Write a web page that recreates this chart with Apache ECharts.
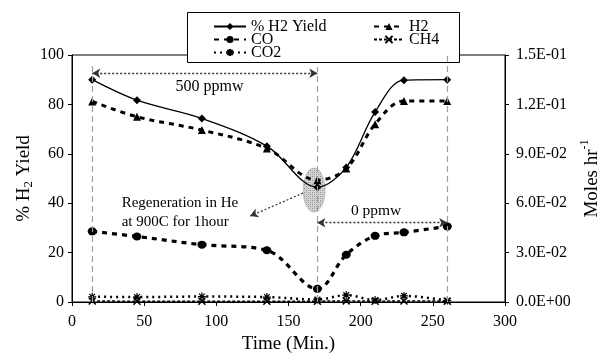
<!DOCTYPE html>
<html>
<head>
<meta charset="utf-8">
<script src="https://cdn.jsdelivr.net/npm/echarts@6/dist/echarts.min.js"></script>
<style>
  html, body { margin: 0; padding: 0; background: #fff; }
  #chart { width: 606px; height: 357px; }
</style>
</head>
<body>
<div id="chart"></div>
<script>
// Sampling times (min)
const timeMin = [14, 45, 90, 135, 170, 190, 210, 230, 260];
// Left axis: % H2 yield
const h2YieldPct = [90.0, 81.7, 74.3, 63.1, 46.5, 54.5, 76.9, 89.8, 90.0];
// Right axis: product flows (moles/hr)
const h2Moles  = [0.1218, 0.1125, 0.1044, 0.0932, 0.0740, 0.0810, 0.1080, 0.1220, 0.1220];
const coMoles  = [0.0429, 0.0398, 0.0348, 0.0314, 0.0080, 0.0287, 0.0402, 0.0423, 0.0459];
const ch4Moles = [0.0006, 0.0005, 0.0005, 0.0005, 0.0005, 0.0007, 0.0005, 0.0006, 0.0005];
const co2Moles = [0.0032, 0.0030, 0.0033, 0.0030, 0.0015, 0.0042, 0.0012, 0.0037, 0.0009];

// Axis ticks
const timeTicks  = [0, 50, 100, 150, 200, 250, 300];
const yieldTicks = [0, 20, 40, 60, 80, 100];
const molesTicks = [0, 0.03, 0.06, 0.09, 0.12, 0.15];

// Feed sulfur periods and regeneration marker
const feedSwitchTimes = [14, 170, 260];
const ppmwLabels = ['500 ppmw', '0 ppmw'];
const regenText = ['Regeneration in He', 'at 900C for 1hour'];

const SERIF = '"Liberation Serif", "Times New Roman", serif';

function sci(v) {
  if (Math.abs(v) < 1e-12) return '0.0E+00';
  const e = Math.floor(Math.log10(Math.abs(v)) + 1e-9);
  const m = v / Math.pow(10, e);
  return m.toFixed(1) + 'E' + (e < 0 ? '-' : '+') + String(Math.abs(e)).padStart(2, '0');
}

const zip = (xs, ys) => xs.map((x, i) => [x, ys[i]]);

// Stippled fill for the regeneration marker
function stipple() {
  const c = document.createElement('canvas');
  c.width = 4; c.height = 4;
  const g = c.getContext('2d');
  g.fillStyle = '#d4d4d4'; g.fillRect(0, 0, 4, 4);
  g.fillStyle = '#8c8c8c';
  g.fillRect(0, 0, 1, 1); g.fillRect(2, 2, 1, 1);
  g.fillStyle = '#b0b0b0';
  g.fillRect(2, 0, 1, 1); g.fillRect(0, 2, 1, 1);
  return c;
}

const chart = echarts.init(document.getElementById('chart'), null, { renderer: 'canvas' });

const tickLabel = { fontFamily: SERIF, fontSize: 16, color: '#000' };
const legendText = { fontFamily: SERIF, fontSize: 16, color: '#000' };

const option = {
  animation: false,
  backgroundColor: '#fff',
  grid: {
    left: 72, right: 101, top: 55, bottom: 55,
    show: true, borderColor: '#000', borderWidth: 1,
    outerBoundsMode: 'none'
  },
  legend: [
    {
      data: ['% H2 Yield', 'CO', 'CO2'],
      orient: 'vertical', left: 213, top: 18.5, padding: 0,
      itemGap: -3, itemWidth: 32, itemHeight: 9,
      selectedMode: false,
      textStyle: legendText
    },
    {
      data: ['H2', 'CH4'],
      orient: 'vertical', left: 373, top: 18.5, padding: 0,
      itemGap: -3, itemWidth: 30, itemHeight: 9,
      selectedMode: false,
      textStyle: legendText
    }
  ],
  xAxis: {
    type: 'value',
    min: timeTicks[0], max: timeTicks[timeTicks.length - 1],
    interval: timeTicks[1] - timeTicks[0],
    axisLine: { show: true, onZero: false, lineStyle: { color: '#000', width: 1 } },
    axisTick: { show: true, inside: false, length: 4, lineStyle: { color: '#000' } },
    splitLine: { show: false },
    axisLabel: Object.assign({ margin: 12 }, tickLabel),
    name: 'Time (Min.)',
    nameLocation: 'middle', nameGap: 31,
    nameTextStyle: { fontFamily: SERIF, fontSize: 19, color: '#000' }
  },
  yAxis: [
    {
      type: 'value', position: 'left',
      min: yieldTicks[0], max: yieldTicks[yieldTicks.length - 1],
      interval: yieldTicks[1] - yieldTicks[0],
      axisLine: { show: true, lineStyle: { color: '#000', width: 1 } },
      axisTick: { show: true, inside: false, length: 4, lineStyle: { color: '#000' } },
      splitLine: { show: false },
      axisLabel: Object.assign({ margin: 8 }, tickLabel),
      name: '% H{sub|2} Yield',
      nameLocation: 'middle', nameRotate: 90, nameGap: 48,
      nameMoveOverlap: false,
      nameTextStyle: {
        fontFamily: SERIF, fontSize: 19, color: '#000',
        rich: {
          sub: { fontFamily: SERIF, fontSize: 13, color: '#000', verticalAlign: 'bottom', lineHeight: 13 }
        },
        lineHeight: 22, verticalAlign: 'middle'
      }
    },
    {
      type: 'value', position: 'right',
      min: molesTicks[0], max: molesTicks[molesTicks.length - 1],
      interval: 0.03,
      axisLine: { show: true, lineStyle: { color: '#000', width: 1 } },
      axisTick: { show: true, inside: false, length: 4, lineStyle: { color: '#000' } },
      splitLine: { show: false },
      axisLabel: Object.assign({ margin: 11, formatter: sci }, tickLabel),
      name: 'Moles hr{sup|-1}',
      nameLocation: 'middle', nameRotate: 90, nameGap: 87,
      nameMoveOverlap: false,
      nameTextStyle: {
        fontFamily: SERIF, fontSize: 19, color: '#000',
        rich: {
          sup: { fontFamily: SERIF, fontSize: 12, color: '#000', verticalAlign: 'top', lineHeight: 12 }
        },
        lineHeight: 26, verticalAlign: 'middle'
      }
    }
  ],
  series: [
    {
      name: '% H2 Yield', type: 'line', yAxisIndex: 0, z: 4,
      data: zip(timeMin, h2YieldPct),
      smooth: 0.35,
      symbol: 'diamond', symbolSize: 8,
      lineStyle: { color: '#000', width: 1.3, type: 'solid' },
      itemStyle: { color: '#000' }
    },
    {
      name: 'H2', type: 'line', yAxisIndex: 1, z: 3,
      data: zip(timeMin, h2Moles),
      smooth: 0.35,
      symbol: 'triangle', symbolSize: 8,
      lineStyle: { color: '#000', width: 3, type: [5, 5] },
      itemStyle: { color: '#000' }
    },
    {
      name: 'CO', type: 'line', yAxisIndex: 1, z: 3,
      data: zip(timeMin, coMoles),
      smooth: 0.35,
      symbol: 'circle', symbolSize: [9, 8],
      lineStyle: { color: '#000', width: 3.2, type: [5, 5] },
      itemStyle: { color: '#000' }
    },
    {
      name: 'CH4', type: 'line', yAxisIndex: 1, z: 3,
      data: zip(timeMin, ch4Moles),
      smooth: 0.35,
      symbol: 'path://M-5,-5L5,5M-5,5L5,-5', symbolSize: 7,
      lineStyle: { color: '#000', width: 1.5, type: [3, 2] },
      itemStyle: { color: '#000', borderColor: '#000', borderWidth: 1.5 }
    },
    {
      name: 'CO2', type: 'line', yAxisIndex: 1, z: 3,
      data: zip(timeMin, co2Moles),
      smooth: 0.35,
      symbol: 'path://M0,-5L0,5M-5,0L5,0M-3.6,-3.6L3.6,3.6M-3.6,3.6L3.6,-3.6', symbolSize: 8,
      lineStyle: { color: '#000', width: 2.5, type: [2, 4] },
      itemStyle: { color: '#000', borderColor: '#000', borderWidth: 1.2 }
    },
    // Grey dashed guides marking the feed switch times
    {
      name: 'guides', type: 'line', yAxisIndex: 0, data: [], z: 2,
      markLine: {
        silent: true, animation: false, symbol: 'none',
        label: { show: false },
        lineStyle: { color: '#a0a0a0', width: 1.2, type: [6, 4] },
        data: [
          [{ coord: [feedSwitchTimes[0], 0] }, { coord: [feedSwitchTimes[0], 97.2] }],
          [{ coord: [feedSwitchTimes[1], 0] }, { coord: [feedSwitchTimes[1], 95.1] }],
          [{ coord: [feedSwitchTimes[2], 0] }, { coord: [feedSwitchTimes[2], 100] }]
        ]
      }
    },
    // Dotted double-headed arrows for the two feed periods
    {
      name: 'periods', type: 'line', yAxisIndex: 0, data: [], z: 3,
      markLine: {
        silent: true, animation: false,
        symbol: ['arrow', 'arrow'], symbolSize: [7, 8],
        label: { show: false },
        lineStyle: { color: '#333', width: 1.3, type: [2, 2] },
        data: [
          [{ coord: [feedSwitchTimes[0], 92.6] }, { coord: [feedSwitchTimes[1], 92.6] }],
          [{ coord: [feedSwitchTimes[1], 32.1] }, { coord: [feedSwitchTimes[2], 32.1] }]
        ]
      }
    },
    // Pointer from the regeneration marker to its note
    {
      name: 'pointer', type: 'line', yAxisIndex: 0, data: [], z: 3,
      markLine: {
        silent: true, animation: false,
        symbol: ['none', 'arrow'], symbolSize: [7, 8],
        label: { show: false },
        lineStyle: { color: '#333', width: 1.2, type: [2, 2] },
        data: [
          [{ coord: [160.1, 44.1] }, { coord: [123.4, 34.8] }]
        ]
      }
    }
  ]
};

chart.setOption(option);

// Annotations placed in data space
const toPx = (x, y) => chart.convertToPixel({ xAxisIndex: 0, yAxisIndex: 0 }, [x, y]);
const blob = toPx(167.7, 45.3);
const t500 = toPx(95.3, 87.2);
const t0 = toPx(210.7, 37);
const r1 = toPx(34.4, 40.2);
const r2 = toPx(34.4, 32.5);

chart.setOption({
  graphic: [
    {
      type: 'rect', z: 1,
      shape: { x: 187.5, y: 12.5, width: 272, height: 50 },
      style: { fill: '#fff', stroke: '#000', lineWidth: 1 }
    },
    {
      type: 'ellipse', z: 1,
      shape: { cx: blob[0], cy: blob[1], rx: 11, ry: 22 },
      style: { fill: { image: stipple(), repeat: 'repeat' }, stroke: 'rgba(160,160,160,0.5)', lineWidth: 1 }
    },
    {
      type: 'text', z: 6, x: t500[0], y: t500[1],
      style: { text: ppmwLabels[0], fill: '#000', font: '16px ' + SERIF, align: 'center', verticalAlign: 'middle' }
    },
    {
      type: 'text', z: 6, x: t0[0], y: t0[1],
      style: { text: ppmwLabels[1], fill: '#000', font: '15.5px ' + SERIF, align: 'center', verticalAlign: 'middle' }
    },
    {
      type: 'text', z: 6, x: r1[0], y: r1[1],
      style: { text: regenText[0], fill: '#000', font: '15px ' + SERIF, align: 'left', verticalAlign: 'middle' }
    },
    {
      type: 'text', z: 6, x: r2[0], y: r2[1],
      style: { text: regenText[1], fill: '#000', font: '15px ' + SERIF, align: 'left', verticalAlign: 'middle' }
    }
  ]
});
</script>
</body>
</html>
